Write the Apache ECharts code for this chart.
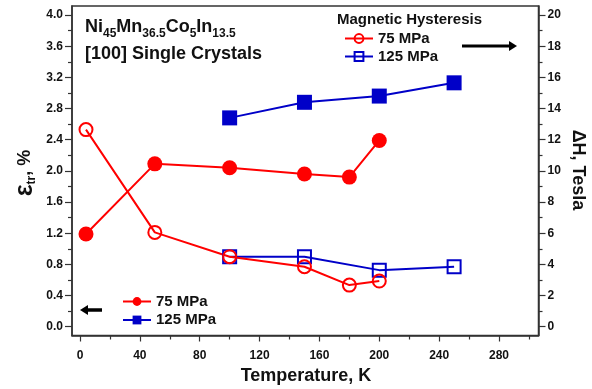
<!DOCTYPE html>
<html>
<head>
<meta charset="utf-8">
<script src="https://cdn.jsdelivr.net/npm/echarts@6/dist/echarts.min.js"></script>
<style>
  html, body { margin: 0; padding: 0; background: #fff; }
  #chart { width: 592px; height: 389px; }
</style>
</head>
<body>
<div id="chart"></div>
<script>
// temperatures (K)
const temps75 = [4, 50, 100, 150, 180, 200];
const temps125 = [100, 150, 200, 250];
// transformation strain, %
const strain75 = [1.19, 2.09, 2.04, 1.96, 1.92, 2.39];
const strain125 = [2.68, 2.88, 2.96, 3.13];
// magnetic hysteresis, Tesla
const hyst75 = [12.65, 6.05, 4.49, 3.85, 2.67, 2.93];
const hyst125 = [4.49, 4.49, 3.63, 3.85];

// ticks
const xMajor = [0, 40, 80, 120, 160, 200, 240, 280];
const xMinor = [20, 60, 100, 140, 180, 220, 260, 300];
const leftMajor = ['0.0', '0.4', '0.8', '1.2', '1.6', '2.0', '2.4', '2.8', '3.2', '3.6', '4.0'];
const leftMinor = ['0.2', '0.6', '1.0', '1.4', '1.8', '2.2', '2.6', '3.0', '3.4', '3.8'];
const rightMajor = [0, 2, 4, 6, 8, 10, 12, 14, 16, 18, 20];
const rightMinor = [1, 3, 5, 7, 9, 11, 13, 15, 17, 19];

const legendText = {
  s75: '75 MPa', s125: '125 MPa',
  h75: '75 MPa', h125: '125 MPa'
};

const RED = '#ff0000';
const BLUE = '#0000c8';
const AXIS = '#333';
const FONT = 'Liberation Sans';

const zip = (xs, ys) => xs.map((x, i) => [x, ys[i]]);

function axis(pos, min, max, ticks, len, labels, fmt) {
  return {
    type: 'value',
    position: pos,
    min: min,
    max: max,
    axisLine: { show: !!labels, onZero: false, lineStyle: { color: AXIS, width: 1.5 } },
    axisTick: { show: true, inside: false, length: len, customValues: ticks, lineStyle: { color: AXIS, width: 1.2 } },
    axisLabel: labels ? {
      customValues: ticks, margin: pos == 'bottom' ? 14 : 9, color: '#111',
      fontFamily: FONT, fontWeight: 'bold', fontSize: 12, formatter: fmt
    } : { show: false },
    splitLine: { show: false }
  };
}

const chart = echarts.init(document.getElementById('chart'));

const option = {
  animation: false,
  backgroundColor: '#fff',
  grid: {
    left: 72, right: 53.5, top: 6, bottom: 53.5,
    show: true, borderColor: AXIS, borderWidth: 1.5,
    containLabel: false, outerBoundsMode: 'none'
  },
  xAxis: [
    axis('bottom', -5.35, 306.4, xMajor, 6, true),
    axis('bottom', -5.35, 306.4, xMinor, 4, false)
  ],
  yAxis: [
    axis('left', -0.113, 4.116, leftMajor.map(Number), 7, true, v => v.toFixed(1)),
    axis('right', -0.565, 20.58, rightMajor, 7, true),
    axis('left', -0.113, 4.116, leftMinor.map(Number), 4, false),
    axis('right', -0.565, 20.58, rightMinor, 4, false)
  ],
  legend: [
    {
      data: ['h75', 'h125'], orient: 'vertical', left: 339, top: 26,
      itemWidth: 28, itemHeight: 11, itemGap: 3, selectedMode: false,
      formatter: n => legendText[n],
      textStyle: { fontFamily: FONT, fontWeight: 'bold', fontSize: 15, color: '#111' }
    },
    {
      data: ['s75', 's125'], orient: 'vertical', left: 117, top: 289,
      itemWidth: 28, itemHeight: 11, itemGap: 3.5, selectedMode: false,
      formatter: n => legendText[n],
      textStyle: { fontFamily: FONT, fontWeight: 'bold', fontSize: 15, color: '#111' }
    }
  ],
  series: [
    {
      name: 'h125', type: 'line', yAxisIndex: 1, data: zip(temps125, hyst125),
      symbol: 'rect', symbolSize: 13,
      lineStyle: { color: BLUE, width: 2 },
      itemStyle: { color: 'rgba(0,0,0,0)', borderColor: BLUE, borderWidth: 2 }
    },
    {
      name: 'h75', type: 'line', yAxisIndex: 1, data: zip(temps75, hyst75),
      symbol: 'circle', symbolSize: 13,
      lineStyle: { color: RED, width: 2 },
      itemStyle: { color: 'rgba(0,0,0,0)', borderColor: RED, borderWidth: 2 }
    },
    {
      name: 's125', type: 'line', yAxisIndex: 0, data: zip(temps125, strain125),
      symbol: 'rect', symbolSize: 15,
      lineStyle: { color: BLUE, width: 2 },
      itemStyle: { color: BLUE }
    },
    {
      name: 's75', type: 'line', yAxisIndex: 0, data: zip(temps75, strain75),
      symbol: 'circle', symbolSize: 15,
      lineStyle: { color: RED, width: 2 },
      itemStyle: { color: RED }
    }
  ],
  graphic: [
    {
      type: 'text', left: 85, top: 14,
      style: {
        text: 'Ni{s|45}Mn{s|36.5}Co{s|5}In{s|13.5}',
        font: 'bold 18px "Liberation Sans"', fill: '#111', lineHeight: 26,
        rich: { s: { fontSize: 12, fontWeight: 'bold', fontFamily: FONT, lineHeight: 12, verticalAlign: 'bottom', fill: '#111' } }
      }
    },
    {
      type: 'text', left: 85, top: 45,
      style: { text: '[100] Single Crystals', font: 'bold 18px "Liberation Sans"', fill: '#111' }
    },
    {
      type: 'text', left: 337, top: 12,
      style: { text: 'Magnetic Hysteresis', font: 'bold 15px "Liberation Sans"', fill: '#111' }
    },
    {
      type: 'text', x: 306, y: 376,
      style: { text: 'Temperature, K', font: 'bold 18px "Liberation Sans"', fill: '#111', align: 'center', verticalAlign: 'middle' }
    },
    {
      type: 'text', x: 25, y: 173, rotation: Math.PI / 2,
      style: {
        text: '{e|ε}{s|tr}{c|, %}', align: 'center', verticalAlign: 'middle',
        rich: {
          e: { fontSize: 25, fontWeight: 'bold', fontFamily: FONT, fill: '#111', lineHeight: 26, verticalAlign: 'middle' },
          c: { fontSize: 18, fontWeight: 'bold', fontFamily: FONT, fill: '#111', lineHeight: 26, verticalAlign: 'middle' },
          s: { fontSize: 12, fontWeight: 'bold', fontFamily: FONT, fill: '#111', lineHeight: 12, verticalAlign: 'bottom' }
        }
      }
    },
    {
      type: 'text', x: 578, y: 170, rotation: -Math.PI / 2,
      style: { text: 'ΔH, Tesla', font: 'bold 18px "Liberation Sans"', fill: '#111', align: 'center', verticalAlign: 'middle' }
    },
    // arrow to the right axis
    { type: 'line', shape: { x1: 462, y1: 46, x2: 510, y2: 46 }, style: { stroke: '#000', lineWidth: 3 } },
    { type: 'polygon', shape: { points: [[509, 41], [517, 46], [509, 51]] }, style: { fill: '#000' } },
    // arrow to the left axis
    { type: 'line', shape: { x1: 86, y1: 310, x2: 102, y2: 310 }, style: { stroke: '#000', lineWidth: 3.5 } },
    { type: 'polygon', shape: { points: [[80, 310], [88, 305], [88, 315]] }, style: { fill: '#000' } }
  ]
};

chart.setOption(option);
</script>
</body>
</html>
